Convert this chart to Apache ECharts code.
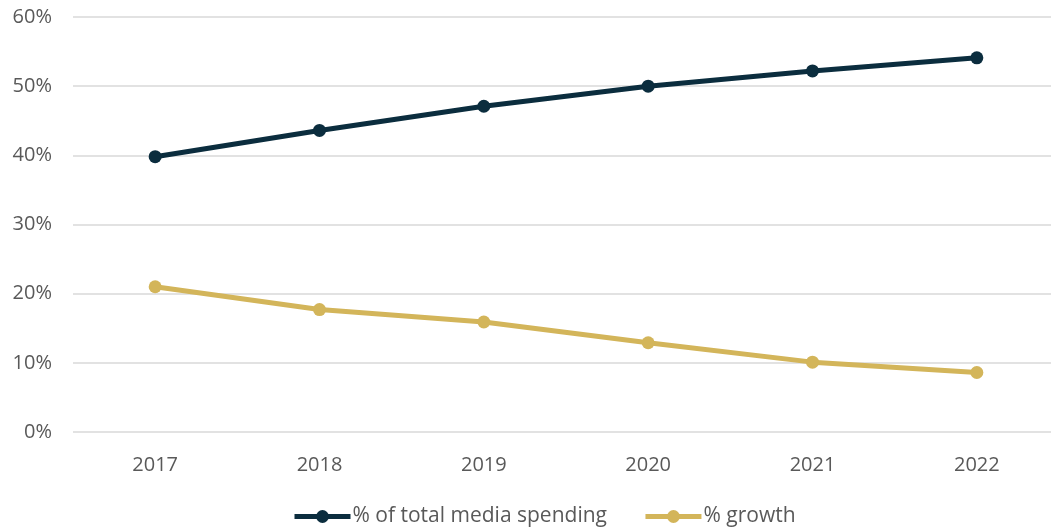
<!DOCTYPE html>
<html>
<head>
<meta charset="utf-8">
<script src="https://cdn.jsdelivr.net/npm/echarts@6/dist/echarts.min.js"></script>
<style>
  html, body { margin: 0; padding: 0; background: #fff; }
  #chart { width: 1051px; height: 531px; }
</style>
</head>
<body>
<div id="chart"></div>
<script>
const years = ['2017', '2018', '2019', '2020', '2021', '2022'];
const shareOfSpending = [39.8, 43.6, 47.1, 50.0, 52.2, 54.1];
const growth = [21.0, 17.7, 15.9, 12.9, 10.1, 8.6];

const chart = echarts.init(document.getElementById('chart'));
const font = '"Open Sans", "Liberation Sans", sans-serif';
chart.setOption({
  animation: false,
  grid: { left: 73, width: 986, top: 17, bottom: 99, outerBoundsMode: 'none' },
  legend: {
    bottom: -1,
    left: 287,
    itemWidth: 56,
    itemHeight: 16,
    itemGap: 36,
    textStyle: { fontFamily: font, fontSize: 21, color: '#595959', padding: [0, 0, 0, -3] },
    lineStyle: { width: 5 },
    data: ['% of total media spending', '% growth']
  },
  xAxis: {
    type: 'category',
    data: years,
    axisLine: { show: false },
    axisTick: { show: false },
    axisLabel: { fontFamily: font, fontSize: 20, color: '#595959', margin: 23 }
  },
  yAxis: {
    type: 'value',
    min: 0, max: 60, interval: 10,
    axisLabel: { formatter: '{value}%', fontFamily: font, fontSize: 20, color: '#595959', margin: 21 },
    splitLine: { lineStyle: { color: '#d9d9d9', width: 1.5 } }
  },
  series: [
    {
      name: '% of total media spending',
      type: 'line',
      data: shareOfSpending,
      symbol: 'circle',
      symbolSize: 13,
      lineStyle: { width: 5, color: '#0b2d3e' },
      itemStyle: { color: '#0b2d3e' }
    },
    {
      name: '% growth',
      type: 'line',
      data: growth,
      symbol: 'circle',
      symbolSize: 13,
      lineStyle: { width: 5, color: '#d3b55a' },
      itemStyle: { color: '#d3b55a' }
    }
  ]
});
</script>
</body>
</html>
